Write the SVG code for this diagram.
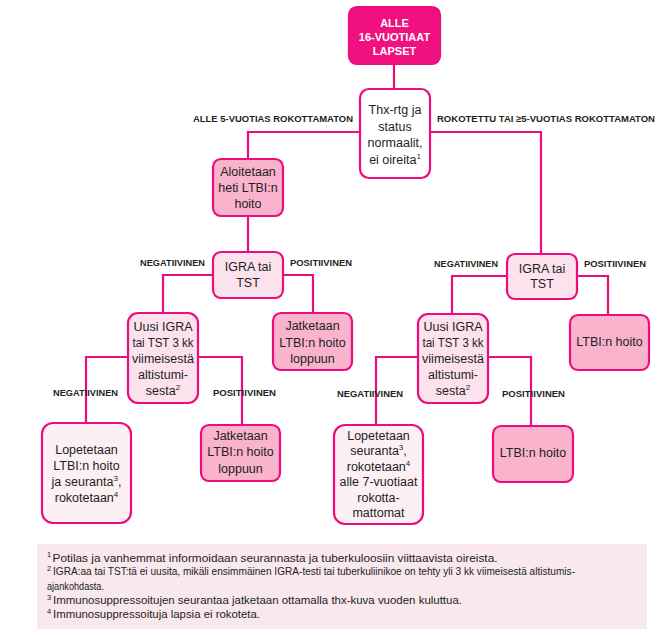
<svg xmlns="http://www.w3.org/2000/svg" width="662" height="636" viewBox="0 0 662 636">
<style>
.bg{fill:#ffffff}
.box{stroke:#ec0c7e;stroke-width:2.2}
.root{fill:#f0107f}
.white{fill:#ffffff}
.dark{fill:#f9b3cd}
.light{fill:#fce2ed}
.pale{fill:#fdf0f5}
.conn line,.conn polyline{stroke:#ec0c7e;stroke-width:2.2;fill:none}
.t{font-family:"Liberation Sans",Arial,sans-serif;font-size:12.5px;fill:#231f20;text-anchor:middle}
.rt{font-family:"Liberation Sans",Arial,sans-serif;font-size:11px;font-weight:bold;fill:#ffffff;text-anchor:middle}
.lbl{font-family:"Liberation Sans",Arial,sans-serif;font-size:9.5px;font-weight:bold;fill:#231f20}
.sup{font-size:8px}
.fn{font-family:"Liberation Sans",Arial,sans-serif;font-size:10.5px;fill:#231f20}
.fns{font-family:"Liberation Sans",Arial,sans-serif;font-size:7.5px;fill:#231f20}
</style>
<rect class="bg" x="0" y="0" width="662" height="636"/>

<g class="conn">
<line x1="394" y1="64" x2="394" y2="88"/>
<polyline points="360,132 248,132 248,159"/>
<polyline points="430,132 541,132 541,254"/>
<line x1="248" y1="216" x2="248" y2="252"/>
<polyline points="213,275 163,275 163,313"/>
<polyline points="283,275 313,275 313,313"/>
<polyline points="507,276 452,276 452,314"/>
<polyline points="577,276 608,276 608,315"/>
<polyline points="128,357 86,357 86,423"/>
<polyline points="198,357 242,357 242,425"/>
<polyline points="418,357 376,357 376,425"/>
<polyline points="488,357 531,357 531,426"/>
</g>

<g id="labels">
<text class="lbl" x="193" y="121.5" textLength="160" lengthAdjust="spacingAndGlyphs">ALLE 5-VUOTIAS ROKOTTAMATON</text>
<text class="lbl" x="437" y="121.5" textLength="218" lengthAdjust="spacingAndGlyphs">ROKOTETTU TAI ≥5-VUOTIAS ROKOTTAMATON</text>
<text class="lbl" x="140" y="265.5" textLength="65" lengthAdjust="spacingAndGlyphs">NEGATIIVINEN</text>
<text class="lbl" x="290" y="265.5" textLength="62" lengthAdjust="spacingAndGlyphs">POSITIIVINEN</text>
<text class="lbl" x="434" y="266.5" textLength="64" lengthAdjust="spacingAndGlyphs">NEGATIIVINEN</text>
<text class="lbl" x="584" y="266.5" textLength="62" lengthAdjust="spacingAndGlyphs">POSITIIVINEN</text>
<text class="lbl" x="53" y="395.5" textLength="65" lengthAdjust="spacingAndGlyphs">NEGATIIVINEN</text>
<text class="lbl" x="213" y="395.5" textLength="63" lengthAdjust="spacingAndGlyphs">POSITIIVINEN</text>
<text class="lbl" x="337" y="396.5" textLength="66" lengthAdjust="spacingAndGlyphs">NEGATIIVINEN</text>
<text class="lbl" x="502" y="396.5" textLength="63" lengthAdjust="spacingAndGlyphs">POSITIIVINEN</text>
</g>

<g id="root">
<rect class="box root" x="349" y="7" width="91" height="57" rx="8"/>
<text class="rt" x="394.5" y="27">ALLE</text>
<text class="rt" x="394.5" y="40.5">16-VUOTIAAT</text>
<text class="rt" x="394.5" y="54.5">LAPSET</text>
</g>

<g id="thx">
<rect class="box white" x="360" y="89" width="70" height="89" rx="9"/>
<text class="t" x="395" y="114">Thx-rtg ja</text>
<text class="t" x="395" y="130.5">status</text>
<text class="t" x="395" y="147">normaalit,</text>
<text class="t" x="395" y="163.5">ei oireita<tspan class="sup" dy="-5">1</tspan></text>
</g>

<g id="aloitetaan">
<rect class="box dark" x="213" y="159" width="70" height="57" rx="8"/>
<text class="t" x="248" y="176">Aloitetaan</text>
<text class="t" x="248" y="192">heti LTBI:n</text>
<text class="t" x="248" y="208">hoito</text>
</g>

<g id="igra-left">
<rect class="box light" x="213" y="252" width="70" height="46" rx="8"/>
<text class="t" x="248" y="271">IGRA tai</text>
<text class="t" x="248" y="287">TST</text>
</g>

<g id="uusi-left">
<rect class="box light" x="128" y="313" width="70" height="90" rx="10"/>
<text class="t" x="163" y="330.5">Uusi IGRA</text>
<text class="t" x="163" y="346.5" textLength="61" lengthAdjust="spacingAndGlyphs">tai TST 3 kk</text>
<text class="t" x="163" y="362.5">viimeisestä</text>
<text class="t" x="163" y="378.5">altistumi-</text>
<text class="t" x="163" y="394.5">sesta<tspan class="sup" dy="-5">2</tspan></text>
</g>

<g id="jatketaan-top">
<rect class="box dark" x="273" y="313" width="79" height="57" rx="8"/>
<text class="t" x="312.5" y="330">Jatketaan</text>
<text class="t" x="312.5" y="346.5">LTBI:n hoito</text>
<text class="t" x="312.5" y="362.5">loppuun</text>
</g>

<g id="lopetetaan-left">
<rect class="box pale" x="42" y="423" width="89" height="100" rx="11"/>
<text class="t" x="86.5" y="454">Lopetetaan</text>
<text class="t" x="86.5" y="470">LTBI:n hoito</text>
<text class="t" x="86.5" y="486">ja seuranta<tspan class="sup" dy="-5">3</tspan><tspan dy="5">,</tspan></text>
<text class="t" x="86.5" y="502">rokotetaan<tspan class="sup" dy="-5">4</tspan></text>
</g>

<g id="jatketaan-bottom">
<rect class="box dark" x="201" y="425" width="79" height="56" rx="8"/>
<text class="t" x="240.5" y="439.5">Jatketaan</text>
<text class="t" x="240.5" y="456">LTBI:n hoito</text>
<text class="t" x="240.5" y="472.5">loppuun</text>
</g>

<g id="igra-right">
<rect class="box light" x="507" y="254" width="70" height="45" rx="8"/>
<text class="t" x="542" y="272.5">IGRA tai</text>
<text class="t" x="542" y="288">TST</text>
</g>

<g id="ltbi-right">
<rect class="box dark" x="570" y="315" width="79" height="55" rx="8"/>
<text class="t" x="609.5" y="346">LTBI:n hoito</text>
</g>

<g id="uusi-right">
<rect class="box light" x="418" y="314" width="70" height="89" rx="10"/>
<text class="t" x="453" y="330.5">Uusi IGRA</text>
<text class="t" x="453" y="346.5" textLength="61" lengthAdjust="spacingAndGlyphs">tai TST 3 kk</text>
<text class="t" x="453" y="362.5">viimeisestä</text>
<text class="t" x="453" y="378.5">altistumi-</text>
<text class="t" x="453" y="394.5">sesta<tspan class="sup" dy="-5">2</tspan></text>
</g>

<g id="lopetetaan-right">
<rect class="box pale" x="334" y="425" width="89" height="99" rx="11"/>
<text class="t" x="378.5" y="439.5">Lopetetaan</text>
<text class="t" x="378.5" y="455">seuranta<tspan class="sup" dy="-5">3</tspan><tspan dy="5">,</tspan></text>
<text class="t" x="378.5" y="470.5">rokotetaan<tspan class="sup" dy="-5">4</tspan></text>
<text class="t" x="378.5" y="486">alle 7-vuotiaat</text>
<text class="t" x="378.5" y="501.5">rokotta-</text>
<text class="t" x="378.5" y="517">mattomat</text>
</g>

<g id="ltbi-bottom-right">
<rect class="box dark" x="493" y="426" width="80" height="56" rx="8"/>
<text class="t" x="533" y="457">LTBI:n hoito</text>
</g>

<g id="footnotes">
<rect x="37" y="544" width="610" height="85" fill="#f9e8ee"/>
<text class="fns" x="47" y="557">1</text>
<text class="fn" x="52.5" y="561.5" textLength="445" lengthAdjust="spacingAndGlyphs">Potilas  ja vanhemmat informoidaan  seurannasta ja tuberkuloosiin viittaavista oireista.</text>
<text class="fns" x="47" y="571">2</text>
<text class="fn" x="53" y="575" textLength="522" lengthAdjust="spacingAndGlyphs">IGRA:aa tai TST:tä ei uusita, mikäli ensimmäinen IGRA-testi tai tuberkuliinikoe on tehty yli 3 kk viimeisestä altistumis-</text>
<text class="fn" x="47" y="589.5" textLength="57" lengthAdjust="spacingAndGlyphs">ajankohdasta.</text>
<text class="fns" x="47" y="600">3</text>
<text class="fn" x="53" y="604" textLength="409" lengthAdjust="spacingAndGlyphs">Immunosuppressoitujen seurantaa jatketaan ottamalla thx-kuva vuoden kuluttua.</text>
<text class="fns" x="47" y="614">4</text>
<text class="fn" x="53" y="618" textLength="207" lengthAdjust="spacingAndGlyphs">Immunosuppressoituja lapsia ei rokoteta.</text>
</g>
</svg>
